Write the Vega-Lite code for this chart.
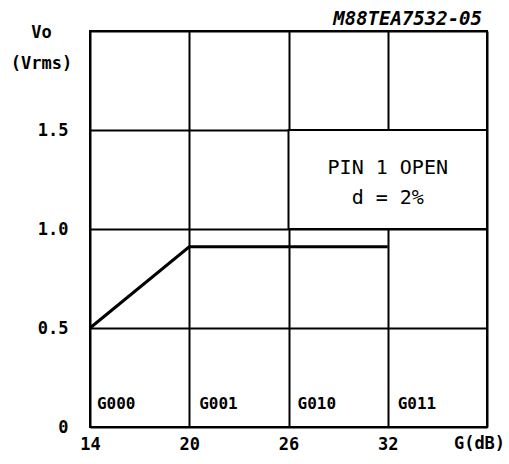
{
  "$schema": "https://vega.github.io/schema/vega-lite/v6.json",
  "width": 397,
  "height": 396,
  "autosize": {"type": "none"},
  "padding": {"left": 90, "top": 31, "right": 22, "bottom": 37},
  "background": "white",
  "config": {
    "view": {"stroke": "black", "strokeWidth": 2},
    "font": "DejaVu Sans Mono"
  },
  "datasets": {
    "curve": [
      {"x": 14, "y": 0.5},
      {"x": 20, "y": 0.91},
      {"x": 32, "y": 0.91}
    ],
    "box": [
      {"x": 26, "x2": 38, "y": 1.0, "y2": 1.5}
    ],
    "note": [
      {"x": 32, "y": 1.31, "t": "PIN 1 OPEN"},
      {"x": 32, "y": 1.155, "t": "d = 2%"}
    ],
    "codes": [
      {"x": 14.42, "y": 0.115, "t": "G000"},
      {"x": 20.6, "y": 0.115, "t": "G001"},
      {"x": 26.55, "y": 0.115, "t": "G010"},
      {"x": 32.6, "y": 0.115, "t": "G011"}
    ],
    "header": [
      {"x": 38, "y": 2.0, "t": "M88TEA7532-05"}
    ]
  },
  "layer": [
    {
      "data": {"name": "box"},
      "mark": {"type": "rect", "fill": "white", "stroke": "black", "strokeWidth": 2},
      "encoding": {
        "x": {
          "field": "x", "type": "quantitative",
          "scale": {"domain": [14, 38], "nice": false, "zero": false},
          "axis": {
            "values": [14, 20, 26, 32, 38],
            "grid": true, "gridColor": "black", "gridWidth": 2, "gridOpacity": 1,
            "ticks": false, "domain": false,
            "labelExpr": "datum.value == 38 ? '' : datum.label",
            "labelFlush": false, "labelOverlap": false,
            "labelFont": "DejaVu Sans Mono", "labelFontWeight": "bold", "labelFontSize": 17,
            "labelColor": "black", "labelPadding": 9,
            "title": "G(dB)", "titleX": 389, "titleY": 21,
            "titleAlign": "center", "titleBaseline": "alphabetic",
            "titleFont": "DejaVu Sans Mono", "titleFontWeight": "bold", "titleFontSize": 17,
            "titleColor": "black"
          }
        },
        "x2": {"field": "x2"},
        "y": {
          "field": "y", "type": "quantitative",
          "scale": {"domain": [0, 2], "nice": false},
          "axis": {
            "values": [0, 0.5, 1, 1.5, 2],
            "grid": true, "gridColor": "black", "gridWidth": 2, "gridOpacity": 1,
            "ticks": false, "domain": false,
            "labelExpr": "datum.value == 0 ? '0\u2007' : datum.value == 2 ? '' : format(datum.value, '.1f')",
            "labelFlush": false, "labelOverlap": false,
            "labelFont": "DejaVu Sans Mono", "labelFontWeight": "bold", "labelFontSize": 17,
            "labelColor": "black", "labelPadding": 22,
            "title": ["Vo", "(Vrms)"], "titleAngle": 0, "titleAlign": "center",
            "titleBaseline": "alphabetic", "titleX": -49, "titleY": 6, "titleLineHeight": 31,
            "titleFont": "DejaVu Sans Mono", "titleFontWeight": "bold", "titleFontSize": 17,
            "titleColor": "black"
          }
        },
        "y2": {"field": "y2"}
      }
    },
    {
      "data": {"name": "curve"},
      "mark": {"type": "line", "color": "black", "strokeWidth": 3},
      "encoding": {
        "x": {"field": "x", "type": "quantitative"},
        "y": {"field": "y", "type": "quantitative"}
      }
    },
    {
      "data": {"name": "note"},
      "mark": {"type": "text", "font": "DejaVu Sans Mono", "fontSize": 20, "color": "black", "align": "center", "baseline": "middle"},
      "encoding": {
        "x": {"field": "x", "type": "quantitative"},
        "y": {"field": "y", "type": "quantitative"},
        "text": {"field": "t"}
      }
    },
    {
      "data": {"name": "codes"},
      "mark": {"type": "text", "font": "DejaVu Sans Mono", "fontWeight": "bold", "fontSize": 16, "color": "black", "align": "left", "baseline": "middle"},
      "encoding": {
        "x": {"field": "x", "type": "quantitative"},
        "y": {"field": "y", "type": "quantitative"},
        "text": {"field": "t"}
      }
    },
    {
      "data": {"name": "header"},
      "mark": {"type": "text", "font": "DejaVu Sans Mono", "fontWeight": "bold", "fontStyle": "italic", "fontSize": 19, "color": "black", "align": "right", "baseline": "alphabetic", "dx": -5, "dy": -6},
      "encoding": {
        "x": {"field": "x", "type": "quantitative"},
        "y": {"field": "y", "type": "quantitative"},
        "text": {"field": "t"}
      }
    }
  ]
}
